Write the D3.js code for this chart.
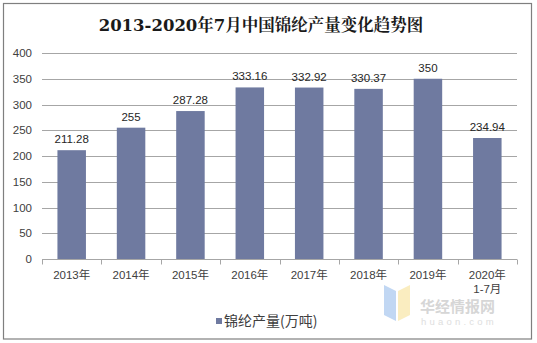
<!DOCTYPE html>
<html>
<head>
<meta charset="utf-8">
<script src="https://cdn.jsdelivr.net/npm/d3@7"></script>
<style>
  html, body { margin: 0; padding: 0; background: #fff; }
  svg { display: block; }
</style>
</head>
<body>
<svg id="chart" width="537" height="343"></svg>
<script>
// Nylon output, China, 2013 to Jan-Jul 2020 (10k tonnes)
const categories = ["2013年", "2014年", "2015年", "2016年", "2017年", "2018年", "2019年", "2020年\n1-7月"];
const production = [211.28, 255, 287.28, 333.16, 332.92, 330.37, 350, 234.94];
const valueLabels = ["211.28", "255", "287.28", "333.16", "332.92", "330.37", "350", "234.94"];
const yTicks = [0, 50, 100, 150, 200, 250, 300, 350, 400];
const titleText = "2013-2020年7月中国锦纶产量变化趋势图";
const seriesName = "锦纶产量(万吨)";

const svg = d3.select("#chart");
const W = 537, H = 343;
const margin = { left: 42, right: 20, top: 53, bottom: 84 };
const barColor = "#6F7AA0";
const sans = "Arial, 'Liberation Sans', 'Noto Sans CJK SC', sans-serif";

// outer frame
svg.append("rect")
  .attr("x", 3.5).attr("y", 3.5)
  .attr("width", 528).attr("height", 335.5)
  .attr("fill", "#fff").attr("stroke", "#7f7f7f").attr("stroke-width", 1.2);

svg.append("text")
  .attr("x", 261).attr("y", 31)
  .attr("text-anchor", "middle")
  .attr("font-family", "'DejaVu Serif', 'Noto Serif CJK SC', 'Noto Sans CJK SC', serif")
  .attr("font-size", 16.5).attr("font-weight", "bold")
  .attr("fill", "#1a1a1a")
  .text(titleText);

const x = d3.scaleBand()
  .domain(categories)
  .range([margin.left, W - margin.right])
  .paddingInner(0.52).paddingOuter(0.26);

const y = d3.scaleLinear()
  .domain([0, 400])
  .range([H - margin.bottom, margin.top]);

// gridlines
svg.append("g")
  .selectAll("line")
  .data(yTicks.filter(d => d > 0))
  .join("line")
  .attr("x1", margin.left).attr("x2", W - margin.right)
  .attr("y1", d => Math.round(y(d)) + 0.5).attr("y2", d => Math.round(y(d)) + 0.5)
  .attr("stroke", "#a6a6a6").attr("stroke-width", 1);

// y axis labels
const yAxis = d3.axisLeft(y).tickValues(yTicks).tickSize(0).tickPadding(10);
const gy = svg.append("g").attr("transform", `translate(${margin.left},0)`).call(yAxis);
gy.select(".domain").remove();
gy.selectAll("text")
  .attr("font-family", sans).attr("font-size", 11.5).attr("fill", "#404040");

// bars
svg.append("g")
  .selectAll("rect")
  .data(production)
  .join("rect")
  .attr("x", (d, i) => x(categories[i]))
  .attr("width", x.bandwidth())
  .attr("y", d => y(d))
  .attr("height", d => y(0) - y(d))
  .attr("fill", barColor);

// value labels
svg.append("g")
  .selectAll("text")
  .data(production)
  .join("text")
  .attr("x", (d, i) => x(categories[i]) + x.bandwidth() / 2)
  .attr("y", d => y(d) - 7)
  .attr("text-anchor", "middle")
  .attr("font-family", sans).attr("font-size", 11.5).attr("fill", "#262626")
  .text((d, i) => valueLabels[i]);

// x axis with boundary ticks
const step = x.step();
const x0 = margin.left;
const axisY = Math.round(y(0)) + 0.5;
const gx = svg.append("g");
gx.append("line")
  .attr("x1", x0).attr("x2", W - margin.right)
  .attr("y1", axisY).attr("y2", axisY)
  .attr("stroke", "#a6a6a6");
gx.selectAll("line.tick")
  .data(d3.range(categories.length + 1))
  .join("line").attr("class", "tick")
  .attr("x1", i => Math.round(x0 + i * step) + 0.5)
  .attr("x2", i => Math.round(x0 + i * step) + 0.5)
  .attr("y1", axisY).attr("y2", axisY + 5)
  .attr("stroke", "#a6a6a6");

const xl = gx.selectAll("text.cat")
  .data(categories)
  .join("text").attr("class", "cat")
  .attr("x", d => x(d) + x.bandwidth() / 2)
  .attr("y", axisY + 19)
  .attr("text-anchor", "middle")
  .attr("font-family", sans).attr("font-size", 11.5).attr("fill", "#404040");
xl.each(function(d) {
  const parts = d.split("\n");
  const t = d3.select(this);
  parts.forEach((p, k) => {
    t.append("tspan").attr("x", t.attr("x")).attr("dy", k === 0 ? 0 : 14).text(p);
  });
});

// watermark
const wm = svg.append("g").attr("opacity", 0.55);
wm.append("path").attr("d", "M384,285 L396,291 L396,321 L384,315 Z").attr("fill", "#8fb8ea");
wm.append("path").attr("d", "M398,291 L410,285 L410,315 L398,321 Z").attr("fill", "#f6df8e");
wm.append("text").attr("x", 420).attr("y", 312)
  .attr("font-family", "'Noto Sans CJK SC', sans-serif").attr("font-size", 15).attr("font-weight", "bold")
  .attr("fill", "#b5b5b5").text("华经情报网");
wm.append("text").attr("x", 421).attr("y", 325)
  .attr("font-family", sans).attr("font-size", 9.5).attr("letter-spacing", 3.2)
  .attr("fill", "#c4c4c4").text("huaon.com");

// legend
const lg = svg.append("g");
lg.append("rect").attr("x", 216).attr("y", 318).attr("width", 6).attr("height", 6).attr("fill", barColor);
lg.append("text").attr("x", 224).attr("y", 326)
  .attr("font-family", "'Noto Sans CJK SC', sans-serif").attr("font-size", 14).attr("fill", "#404040")
  .text(seriesName);
</script>
</body>
</html>
